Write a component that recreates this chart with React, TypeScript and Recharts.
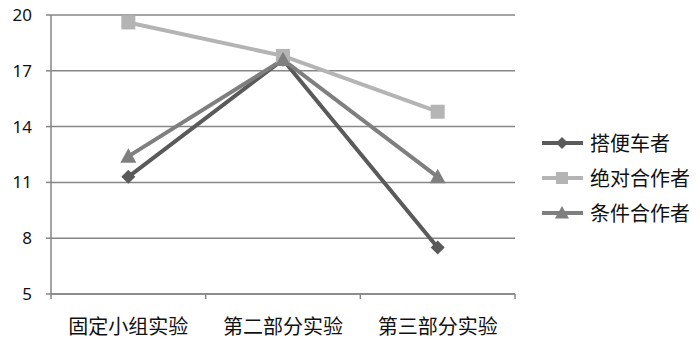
import { LineChart, Line, XAxis, YAxis, CartesianGrid } from "recharts";

const categories = ["固定小组实验", "第二部分实验", "第三部分实验"];
const freeRiders = [11.3, 17.6, 7.5];
const unconditional = [19.6, 17.8, 14.8];
const conditional = [12.4, 17.6, 11.3];
const yTicks = [5, 8, 11, 14, 17, 20];

const series = [
    { key: "freeRiders", name: "搭便车者", color: "#5a5a5a", shape: "diamond" },
    { key: "unconditional", name: "绝对合作者", color: "#b4b4b4", shape: "square" },
    { key: "conditional", name: "条件合作者", color: "#7f7f7f", shape: "triangle" }
];

// categories sit in the middle of each band: 0.5, 1.5, 2.5
const data = categories.map((c, i) => ({
    pos: i + 0.5,
    name: c,
    freeRiders: freeRiders[i],
    unconditional: unconditional[i],
    conditional: conditional[i]
}));

const xTicks = [0, 0.5, 1, 1.5, 2, 2.5, 3];

const AXIS = "#868686";
const FONT_CJK = "'Noto Sans CJK SC', sans-serif";

const Marker = ({ cx, cy, shape, color, size = 7 }: any) => {
    if (cx == null || cy == null) return null;
    if (shape === "diamond") {
        const s = size;
        return <path d={`M${cx},${cy - s} L${cx + s},${cy} L${cx},${cy + s} L${cx - s},${cy} Z`} fill={color} />;
    }
    if (shape === "square") {
        const s = size;
        return <rect x={cx - s} y={cy - s} width={s * 2} height={s * 2} fill={color} />;
    }
    const s = size + 1;
    return <path d={`M${cx},${cy - s} L${cx + s},${cy + s * 0.8} L${cx - s},${cy + s * 0.8} Z`} fill={color} />;
};

const XTick = ({ x, y, payload }: any) => {
    const v = payload.value;
    if (Number.isInteger(v)) {
        return <line x1={x} y1={y} x2={x} y2={y + 5} stroke={AXIS} strokeWidth={1.5} />;
    }
    return (
        <text x={x} y={y + 40} textAnchor="middle" fontSize={20} fontFamily={FONT_CJK} fill="#111">
            {categories[Math.floor(v)]}
        </text>
    );
};

const ChartLegend = () => (
    <div style={{ position: "absolute", left: 540, top: 125, fontFamily: FONT_CJK, fontSize: 20, color: "#111" }}>
        {series.map((s) => (
            <div key={s.key} style={{ display: "flex", alignItems: "center", height: 35 }}>
                <svg width={44} height={20} style={{ marginRight: 6 }}>
                    <line x1={2} y1={10} x2={43} y2={10} stroke={s.color} strokeWidth={4} />
                    <Marker cx={22} cy={10} shape={s.shape} color={s.color} size={6} />
                </svg>
                <span>{s.name}</span>
            </div>
        ))}
    </div>
);

export default function App() {
    return (
        <div style={{ position: "absolute", left: 0, top: 0, width: 700, height: 350, background: "#fff" }}>
            <LineChart width={700} height={350} data={data} margin={{ top: 15, right: 185, bottom: 0, left: 0 }}>
                <CartesianGrid vertical={false} stroke={AXIS} strokeWidth={1.5} />
                <XAxis
                    dataKey="pos"
                    type="number"
                    domain={[0, 3]}
                    ticks={xTicks}
                    interval={0}
                    height={56}
                    tickSize={0}
                    tickMargin={0}
                    tickLine={false}
                    axisLine={{ stroke: AXIS, strokeWidth: 1.5 }}
                    tick={<XTick />}
                />
                <YAxis
                    domain={[5, 20]}
                    ticks={yTicks}
                    interval={0}
                    width={51}
                    tickSize={5}
                    tickMargin={14}
                    axisLine={{ stroke: AXIS, strokeWidth: 1.5 }}
                    tickLine={{ stroke: AXIS, strokeWidth: 1.5 }}
                    tick={{ fill: "#111", fontSize: 17, fontFamily: "'Noto Sans', sans-serif" }}
                />
                {series.map((s) => (
                    <Line
                        key={s.key}
                        dataKey={s.key}
                        name={s.name}
                        stroke={s.color}
                        strokeWidth={4}
                        isAnimationActive={false}
                        dot={(p: any) => <Marker key={`${s.key}-${p.index}`} cx={p.cx} cy={p.cy} shape={s.shape} color={s.color} />}
                        activeDot={false}
                    />
                ))}
            </LineChart>
            <ChartLegend />
        </div>
    );
}
